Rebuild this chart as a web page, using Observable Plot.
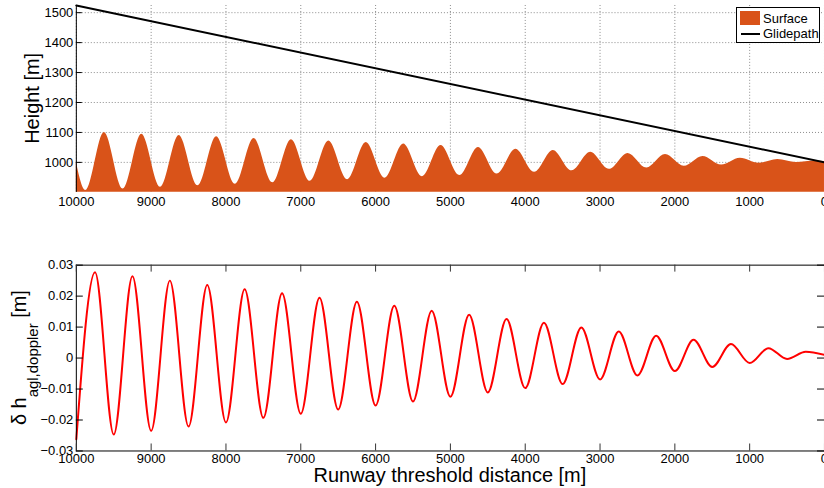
<!DOCTYPE html>
<html><head><meta charset="utf-8">
<script src="https://cdn.jsdelivr.net/npm/d3@7"></script>
<script src="https://cdn.jsdelivr.net/npm/@observablehq/plot@0.6"></script>
<style>
html,body{margin:0;padding:0;overflow:hidden;background:#fff;}
#wrap{position:relative;width:824px;height:488px;overflow:hidden;font-family:"Liberation Sans",Arial,sans-serif;}
#top,#bot,#leg{position:absolute;left:0;}
#top{top:0}
#bot{top:240px}
#leg{top:0}
</style></head><body>
<div id="wrap"><div id="top"></div><div id="bot"></div>
<svg id="leg" width="824" height="50" font-family="Liberation Sans, Arial, sans-serif" font-size="13">
  <rect x="736.5" y="7.5" width="83" height="35" fill="#fff" stroke="#000" stroke-width="1"></rect>
  <rect x="740" y="11" width="20" height="14" fill="#D95319"></rect>
  <line x1="741" x2="760" y1="34" y2="34" stroke="#000" stroke-width="2"></line>
  <text x="763" y="23.3" fill="#000">Surface</text>
  <text x="763" y="38" fill="#000">Glidepath</text>
</svg>
</div>
<script>
// ---------- data ----------
const distTicks = [10000, 9000, 8000, 7000, 6000, 5000, 4000, 3000, 2000, 1000, 0];
const heightTicks = [1000, 1100, 1200, 1300, 1400, 1500];
const dopplerTicks = [-0.03, -0.02, -0.01, 0, 0.01, 0.02, 0.03];
const xLim = [10000, 0];
const heightLim = [900, 1524];
const dopplerLim = [-0.03, 0.03];

// surface profile: extrema
const surfaceDist = [10000, 9875, 9625, 9375, 9125, 8875, 8625, 8375, 8125, 7875, 7625, 7375, 7125, 6875, 6625, 6375, 6125, 5875, 5625, 5375, 5125, 4875, 4625, 4375, 4125, 3875, 3625, 3375, 3125, 2875, 2625, 2375, 2125, 1875, 1625, 1375, 1125, 875, 625, 375, 125, 0];
const surfaceHeight = [1001, 906, 1100, 911, 1094, 917, 1090, 922, 1086, 927, 1080, 932, 1076, 937, 1071, 942, 1066, 947, 1061, 952, 1056, 956, 1050, 961, 1044, 967, 1040, 972, 1034, 977, 1030, 981, 1026, 987, 1020, 991, 1014, 997, 1010, 1000, 1005, 1003];

// glidepath
const glideDist = [10000, 0];
const glideHeight = [1524, 1000];

// doppler height error: extrema
const dopplerDist = [10000, 9750, 9500, 9250, 9000, 8750, 8500, 8250, 8000, 7750, 7500, 7250, 7000, 6750, 6500, 6250, 6000, 5750, 5500, 5250, 5000, 4750, 4500, 4250, 4000, 3750, 3500, 3250, 3000, 2750, 2500, 2250, 2000, 1750, 1500, 1250, 1000, 750, 500, 250, 0];
const dopplerErr = [-0.0262, 0.0277, -0.0247, 0.0264, -0.0235, 0.0250, -0.0221, 0.0236, -0.0208, 0.0222, -0.0193, 0.0209, -0.0180, 0.0195, -0.0166, 0.0182, -0.0153, 0.0169, -0.0140, 0.0153, -0.0125, 0.0140, -0.0111, 0.0126, -0.0097, 0.0114, -0.0084, 0.0099, -0.0069, 0.0086, -0.0056, 0.0072, -0.0042, 0.0059, -0.0029, 0.0045, -0.0016, 0.0032, -0.0003, 0.0020, 0.0010];

const surfaceColor = "#D95319";
const font = "Liberation Sans, Arial, sans-serif";

const surface = surfaceDist.map((d, i) => ({d, h: surfaceHeight[i]}));
const glide = glideDist.map((d, i) => ({d, h: glideHeight[i]}));
const doppler = dopplerDist.map((d, i) => ({d, e: dopplerErr[i]}));

// ---------- top panel ----------
const W = 826, L = 76;
const topH = 215, topMT = 5, topMB = 22.7;
const plotW = W - L;
const topPlot = Plot.plot({
  width: W, height: topH,
  marginLeft: L, marginRight: 0, marginTop: topMT, marginBottom: topMB,
  style: {fontFamily: font, fontSize: "13px", color: "#000", background: "none", overflow: "visible"},
  x: {domain: xLim},
  y: {domain: heightLim},
  marks: [
    Plot.gridX(distTicks, {stroke: "#8c8c8c", strokeOpacity: 1, strokeDasharray: "1,2"}),
    Plot.gridY(heightTicks, {stroke: "#8c8c8c", strokeOpacity: 1, strokeDasharray: "1,2"}),
    Plot.areaY(surface, {x: "d", y1: heightLim[0], y2: "h", fill: surfaceColor, curve: "monotone-x"}),
    Plot.line(glide, {x: "d", y: "h", stroke: "#000", strokeWidth: 2}),
    Plot.ruleX([xLim[0]], {stroke: "#000", strokeWidth: 1}),
    Plot.tickY(heightTicks, {y: d => d, stroke: "#000", insetRight: plotW - 6}),
    Plot.axisY(heightTicks, {tickSize: 0, tickPadding: 3, tickFormat: d3.format("d"), label: null}),
    Plot.axisX(distTicks, {tickSize: 0, tickPadding: 4, tickFormat: d3.format("d"), label: null})
  ]
});
d3.select(topPlot).append("text")
  .attr("transform", "translate(39,98.6) rotate(-90)")
  .attr("text-anchor", "middle").attr("font-size", 20).attr("fill", "#000")
  .attr("font-family", font)
  .text("Height [m]");
document.getElementById("top").append(topPlot);

// ---------- bottom panel ----------
const botH = 248, botMT = 24.7, botMB = 37;
const botPH = botH - botMT - botMB;
const botPlot = Plot.plot({
  width: W, height: botH,
  marginLeft: L, marginRight: 0, marginTop: botMT, marginBottom: botMB,
  style: {fontFamily: font, fontSize: "13px", color: "#000", background: "none", overflow: "visible"},
  x: {domain: xLim},
  y: {domain: dopplerLim},
  marks: [
    Plot.line(doppler, {x: "d", y: "e", stroke: "#ff0000", strokeWidth: 2, curve: "monotone-x"}),
    Plot.frame({stroke: "#000", strokeWidth: 1}),
    Plot.tickY(dopplerTicks, {y: d => d, stroke: "#000", insetRight: plotW - 7}),
    Plot.tickY(dopplerTicks, {y: d => d, stroke: "#000", insetLeft: plotW - 7}),
    Plot.tickX(distTicks, {x: d => d, stroke: "#333", insetTop: botPH - 7}),
    Plot.tickX(distTicks, {x: d => d, stroke: "#333", insetBottom: botPH - 7}),
    Plot.axisY(dopplerTicks, {tickSize: 0, tickPadding: 3, tickFormat: d3.format("~g"), label: null}),
    Plot.axisX(distTicks, {tickSize: 0, tickPadding: 3, tickFormat: d3.format("d"), label: null})
  ]
});
const yl = d3.select(botPlot).append("text")
  .attr("transform", "translate(26,117.9) rotate(-90)")
  .attr("text-anchor", "middle").attr("font-size", 20).attr("fill", "#000")
  .attr("font-family", font);
yl.append("tspan").text("δ h");
yl.append("tspan").attr("dy", 12).attr("font-size", 15).text("agl,doppler");
yl.append("tspan").attr("dy", -12).attr("font-size", 20).text("\u00a0[m]");
d3.select(botPlot).append("text")
  .attr("x", 451).attr("y", 242.3)
  .attr("text-anchor", "middle").attr("font-size", 20).attr("fill", "#000")
  .attr("font-family", font)
  .text("Runway threshold distance [m]");
document.getElementById("bot").append(botPlot);
</script>
</body></html>
